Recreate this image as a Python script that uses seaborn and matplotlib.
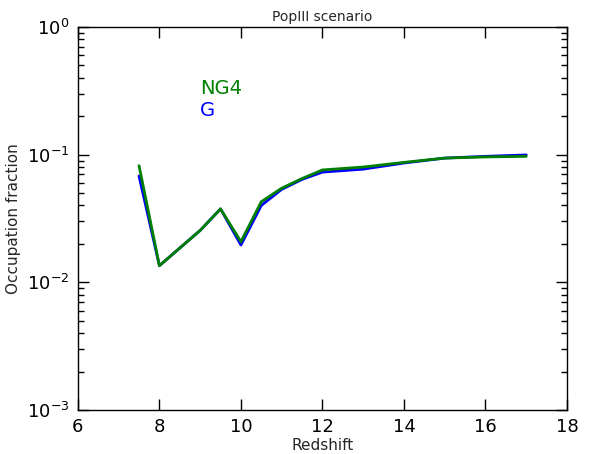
import matplotlib
matplotlib.use("Agg")
import matplotlib.pyplot as plt
import seaborn as sns
import pandas as pd

redshift = [7.5, 8, 9, 9.5, 10, 10.5, 11, 11.5, 12, 13, 14, 15, 16, 17]
frac_ng4 = [0.082, 0.0135, 0.0255, 0.0376, 0.0208, 0.0428, 0.0546, 0.065, 0.0759, 0.080, 0.087, 0.094, 0.096, 0.097]
frac_g = [0.068, 0.0135, 0.0255, 0.0376, 0.0196, 0.040, 0.0535, 0.064, 0.073, 0.077, 0.086, 0.094, 0.097, 0.0995]

sns.set_style("ticks")
plt.rcParams['font.family'] = ['DejaVu Sans']

df = pd.DataFrame({
    "Redshift": redshift * 2,
    "frac": frac_g + frac_ng4,
    "model": ["G"] * len(redshift) + ["NG4"] * len(redshift),
})

fig = plt.figure(figsize=(5.9, 4.54), dpi=100)
ax = fig.add_axes([0.132, 0.097, 0.829, 0.8435])
sns.lineplot(data=df, x="Redshift", y="frac", hue="model", palette={"G": "blue", "NG4": "green"},
             hue_order=["G", "NG4"], linewidth=2, legend=False, ax=ax)

ax.set_yscale("log")
ax.set_xlim(6, 18)
ax.set_ylim(1e-3, 1)
ax.set_xticks([6, 8, 10, 12, 14, 16, 18])
ax.set_xlabel("Redshift", fontsize=11, labelpad=1)
ax.set_ylabel("Occupation fraction", fontsize=11)
ax.set_title("PopIII scenario", fontsize=10, pad=4)
ax.text(9.0, 0.3, "NG4", color="green", fontsize=14)
ax.text(9.0, 0.2, "G", color="blue", fontsize=14)

for s in ax.spines.values():
    s.set_visible(True)
    s.set_color("black")
    s.set_linewidth(1)
ax.tick_params(which="both", direction="in", top=True, right=True, labelsize=13, colors="black")
ax.tick_params(which="major", length=8, width=1, pad=6)
ax.tick_params(which="minor", length=4, width=1)
ax.xaxis.set_minor_locator(matplotlib.ticker.NullLocator())

fig.savefig("out.png", dpi=100)
